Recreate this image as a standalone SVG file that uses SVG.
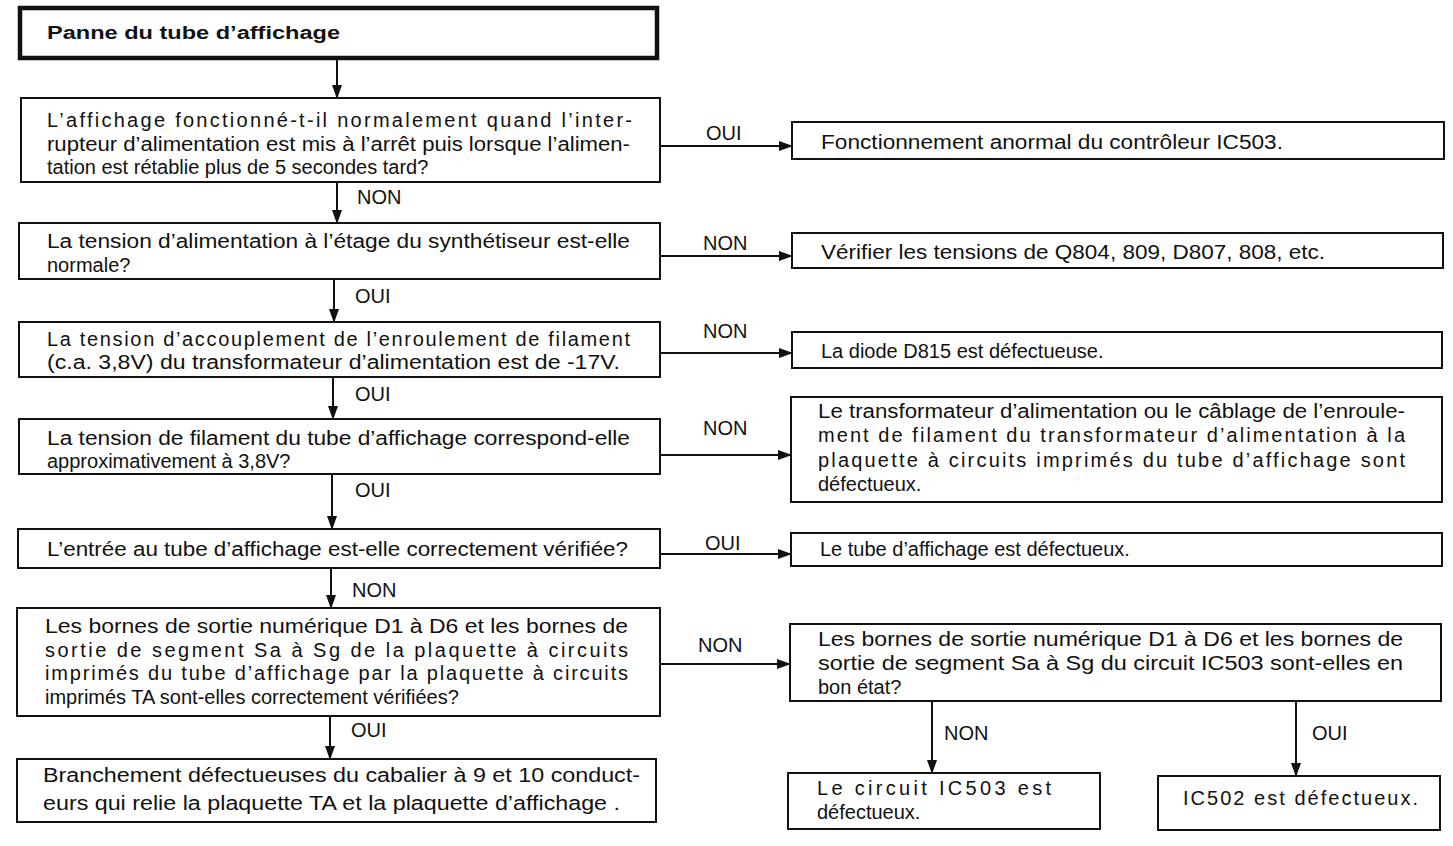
<svg xmlns="http://www.w3.org/2000/svg" width="1453" height="846" viewBox="0 0 1453 846">
<style>
.box{fill:#fff;stroke:#111;stroke-width:2}
.title{fill:#fff;stroke:#111;stroke-width:4.5}
text{font-family:"Liberation Sans",Arial,sans-serif;font-size:20px;fill:#111}
.b{font-weight:bold;font-size:18px}
.con{stroke:#111;stroke-width:2;fill:none;marker-end:url(#ah)}
</style>
<defs>
<marker id="ah" markerWidth="14" markerHeight="10" refX="13" refY="5" orient="auto" markerUnits="userSpaceOnUse">
<path d="M0,0 L14,5 L0,10 Z" fill="#111"/>
</marker>
</defs>
<rect width="1453" height="846" fill="#fff"/>
<g id="connectors">
<line class="con" x1="337" y1="59" x2="337" y2="98"/>
<line class="con" x1="660" y1="146" x2="792" y2="146"/>
<line class="con" x1="337" y1="182" x2="337" y2="223"/>
<line class="con" x1="660" y1="256" x2="792" y2="256"/>
<line class="con" x1="334" y1="279" x2="334" y2="322"/>
<line class="con" x1="660" y1="353" x2="792" y2="353"/>
<line class="con" x1="333" y1="377" x2="333" y2="419"/>
<line class="con" x1="660" y1="455" x2="791" y2="455"/>
<line class="con" x1="332" y1="474" x2="332" y2="529"/>
<line class="con" x1="660" y1="554" x2="791" y2="554"/>
<line class="con" x1="331" y1="568" x2="331" y2="608"/>
<line class="con" x1="660" y1="664" x2="790" y2="664"/>
<line class="con" x1="330" y1="716" x2="330" y2="759"/>
<line class="con" x1="932" y1="701" x2="932" y2="773"/>
<line class="con" x1="1296" y1="701" x2="1296" y2="776"/>
<text x="706" y="140">OUI</text>
<text x="357" y="204">NON</text>
<text x="703" y="250">NON</text>
<text x="355" y="303">OUI</text>
<text x="703" y="338">NON</text>
<text x="355" y="401">OUI</text>
<text x="703" y="435">NON</text>
<text x="355" y="497">OUI</text>
<text x="705" y="550">OUI</text>
<text x="352" y="597">NON</text>
<text x="698" y="652">NON</text>
<text x="351" y="737">OUI</text>
<text x="944" y="740">NON</text>
<text x="1312" y="740">OUI</text>
</g>
<g id="title">
<rect class="title" x="20" y="8" width="637" height="50"/>
<text class="b" x="47" y="39" textLength="293" lengthAdjust="spacingAndGlyphs">Panne du tube d’affichage</text>
</g>
<g id="q1">
<rect class="box" x="21" y="98" width="639" height="84"/>
<text x="47" y="127" textLength="585" lengthAdjust="spacing">L’affichage fonctionné-t-il normalement quand l’inter-</text>
<text x="47" y="151" textLength="583" lengthAdjust="spacingAndGlyphs">rupteur d’alimentation est mis à l’arrêt puis lorsque l’alimen-</text>
<text x="47" y="174">tation est rétablie plus de 5 secondes tard?</text>
</g>
<g id="r1">
<rect class="box" x="792" y="122" width="652" height="37"/>
<text x="821" y="149" textLength="462" lengthAdjust="spacingAndGlyphs">Fonctionnement anormal du contrôleur IC503.</text>
</g>
<g id="q2">
<rect class="box" x="19" y="223" width="641" height="56"/>
<text x="47" y="248" textLength="583" lengthAdjust="spacingAndGlyphs">La tension d’alimentation à l’étage du synthétiseur est-elle</text>
<text x="47" y="272">normale?</text>
</g>
<g id="r2">
<rect class="box" x="792" y="233" width="651" height="35"/>
<text x="821" y="259" textLength="504" lengthAdjust="spacingAndGlyphs">Vérifier les tensions de Q804, 809, D807, 808, etc.</text>
</g>
<g id="q3">
<rect class="box" x="19" y="322" width="641" height="55"/>
<text x="47" y="346" textLength="583" lengthAdjust="spacing">La tension d’accouplement de l’enroulement de filament</text>
<text x="47" y="369" textLength="573" lengthAdjust="spacingAndGlyphs">(c.a. 3,8V) du transformateur d’alimentation est de -17V.</text>
</g>
<g id="r3">
<rect class="box" x="792" y="332" width="650" height="36"/>
<text x="821" y="358">La diode D815 est défectueuse.</text>
</g>
<g id="q4">
<rect class="box" x="19" y="419" width="641" height="55"/>
<text x="47" y="445" textLength="583" lengthAdjust="spacingAndGlyphs">La tension de filament du tube d’affichage correspond-elle</text>
<text x="47" y="468">approximativement à 3,8V?</text>
</g>
<g id="r4">
<rect class="box" x="791" y="397" width="651" height="105"/>
<text x="818" y="418" textLength="587" lengthAdjust="spacingAndGlyphs">Le transformateur d’alimentation ou le câblage de l’enroule-</text>
<text x="818" y="442" textLength="587" lengthAdjust="spacing">ment de filament du transformateur d’alimentation à la</text>
<text x="818" y="467" textLength="587" lengthAdjust="spacing">plaquette à circuits imprimés du tube d’affichage sont</text>
<text x="818" y="491">défectueux.</text>
</g>
<g id="q5">
<rect class="box" x="18" y="529" width="642" height="39"/>
<text x="47" y="556" textLength="581" lengthAdjust="spacingAndGlyphs">L’entrée au tube d’affichage est-elle correctement vérifiée?</text>
</g>
<g id="r5">
<rect class="box" x="791" y="533" width="651" height="33"/>
<text x="820" y="556">Le tube d’affichage est défectueux.</text>
</g>
<g id="q6">
<rect class="box" x="17" y="608" width="643" height="108"/>
<text x="45" y="633" textLength="583" lengthAdjust="spacingAndGlyphs">Les bornes de sortie numérique D1 à D6 et les bornes de</text>
<text x="45" y="657" textLength="583" lengthAdjust="spacing">sortie de segment Sa à Sg de la plaquette à circuits</text>
<text x="45" y="680" textLength="583" lengthAdjust="spacing">imprimés du tube d’affichage par la plaquette à circuits</text>
<text x="45" y="704">imprimés TA sont-elles correctement vérifiées?</text>
</g>
<g id="q7">
<rect class="box" x="790" y="624" width="651" height="77"/>
<text x="818" y="646" textLength="585" lengthAdjust="spacingAndGlyphs">Les bornes de sortie numérique D1 à D6 et les bornes de</text>
<text x="818" y="670" textLength="585" lengthAdjust="spacingAndGlyphs">sortie de segment Sa à Sg du circuit IC503 sont-elles en</text>
<text x="818" y="694">bon état?</text>
</g>
<g id="r6">
<rect class="box" x="17" y="759" width="639" height="63"/>
<text x="43" y="782" textLength="597" lengthAdjust="spacingAndGlyphs">Branchement  défectueuses du cabalier à 9 et 10 conduct-</text>
<text x="43" y="810" textLength="577" lengthAdjust="spacingAndGlyphs">eurs qui relie la plaquette TA et la plaquette d’affichage .</text>
</g>
<g id="r7a">
<rect class="box" x="788" y="773" width="312" height="56"/>
<text x="817" y="795" textLength="234" lengthAdjust="spacing">Le circuit IC503 est</text>
<text x="817" y="819">défectueux.</text>
</g>
<g id="r7b">
<rect class="box" x="1158" y="776" width="282" height="54"/>
<text x="1183" y="805" textLength="235" lengthAdjust="spacing">IC502 est défectueux.</text>
</g>
</svg>
